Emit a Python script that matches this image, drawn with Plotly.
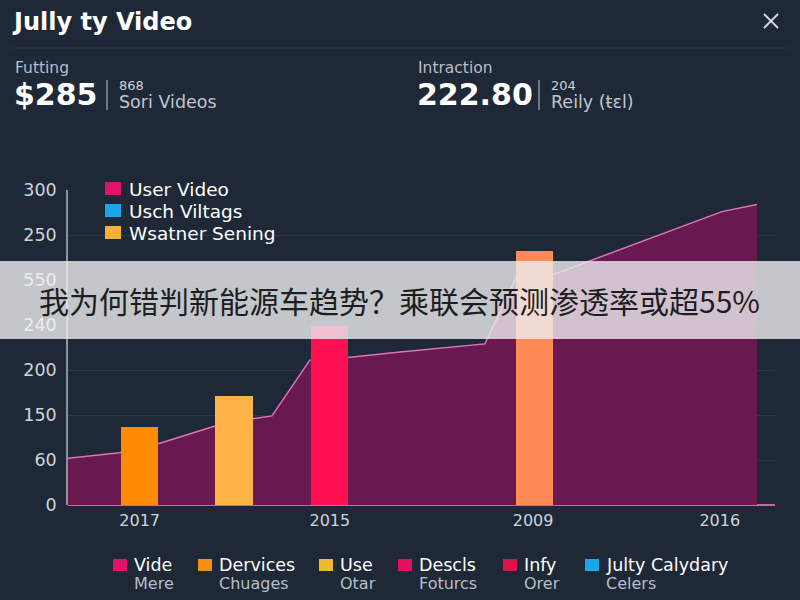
import plotly.graph_objects as go

# ---- data ----
area_x = [0, 7.5, 13.1, 21.0, 26.9, 29.6, 35.1, 40.6, 48.2, 60.5, 64.9, 70.4, 94.9, 100]
area_y = [52, 58, 68, 87, 96, 99, 161, 164, 170, 179, 250, 256, 326, 334]
bar_x = [10.4, 24.1, 37.9, 67.7]
bar_y = [87, 121, 199, 282]
bar_colors = ["#FF8C00", "#FFB347", "#FF1050", "#FF8A55"]
x_tickvals = [10.4, 38.0, 67.5, 94.6]
x_ticktext = ["2017", "2015", "2009", "2016"]
y_tickvals = [0, 50, 100, 150, 200, 250, 300, 350]
y_ticktext = ["0", "60", "150", "200", "<span style='color:#E6E8EC'>240</span>",
              "<span style='color:#E6E8EC'>550</span>", "250", "300"]
top_legend = [("User Video", "#E2126C"), ("Usch Viltags", "#1BA8E8"), ("Wsatner Sening", "#F7B035")]
bottom_legend = [("Vide", "Mere", "#E2126C"), ("Dervices", "Chuages", "#F39012"),
                 ("Use", "Otar", "#F0B830"), ("Descls", "Foturcs", "#E0105A"),
                 ("Infy", "Orer", "#E0104A"), ("Julty Calydary", "Celers", "#1BA8E8")]

W, H = 800, 600
L, R, T, B = 68, 25, 190, 95
PW, PH = W - L - R, H - T - B

def px(x):
    return (x - L) / PW

def py(y):
    return (H - y - B) / PH

BG = "#1E2836"
FONT = "DejaVu Sans, Verdana, sans-serif"

fig = go.Figure()
fig.add_trace(go.Scatter(x=area_x, y=area_y, mode="lines", fill="tozeroy",
                         fillcolor="#691850", line=dict(color="#D878B8", width=1.5),
                         hoverinfo="skip", showlegend=False))
fig.add_trace(go.Bar(x=bar_x, y=bar_y, width=5.4, marker=dict(color=bar_colors, line=dict(width=0)),
                     xaxis="x", yaxis="y2", showlegend=False))

shapes = []
annotations = []

def ann(x, y, text, size, color, anchor="left"):
    annotations.append(dict(xref="paper", yref="paper", x=px(x), y=py(y), text=text, showarrow=False,
                            xanchor=anchor, yanchor="middle", font=dict(size=size, color=color, family=FONT)))

def line(x0, y0, x1, y1, color, width):
    shapes.append(dict(type="line", xref="paper", yref="paper", x0=px(x0), x1=px(x1), y0=py(y0), y1=py(y1),
                       line=dict(color=color, width=width)))

def rect(x0, y0, x1, y1, color, layer="above"):
    shapes.append(dict(type="rect", xref="paper", yref="paper", x0=px(x0), x1=px(x1), y0=py(y1), y1=py(y0),
                       fillcolor=color, line=dict(width=0), layer=layer))

# header
ann(10, 22, "<b>Jully ty Video</b>", 24, "#FFFFFF")
line(764, 14, 778, 28, "#D8DCE2", 1.8)
line(764, 28, 778, 14, "#D8DCE2", 1.8)
line(12, 48, 788, 48, "#2C3646", 1)

def stat(x0, label, big, sep_x, small1, small2):
    ann(x0, 68, label, 15.5, "#B8BEC8")
    ann(x0 - 1, 95, "<b>" + big + "</b>", 30, "#FFFFFF")
    line(sep_x, 80, sep_x, 110, "#8A94A0", 1.5)
    ann(sep_x + 10, 85, small1, 13, "#D0D4DA")
    ann(sep_x + 10, 102, small2, 17.5, "#C0C6CE")

stat(13, "Futting", "$285", 107, "868", "Sori Videos")
stat(416, "Intraction", "222.80", 539, "204", "Reily (ŧɛl)")

# top legend
for i, (name, col) in enumerate(top_legend):
    yy = 189 + 22 * i
    rect(105, yy - 7, 121, yy + 6, col)
    ann(127, yy, name, 18.5, "#FFFFFF")

# bottom legend
bx = [113, 198, 319, 398, 503, 585]
for (name, sub, col), x0 in zip(bottom_legend, bx):
    rect(x0, 559, x0 + 14, 571, col)
    ann(x0 + 19, 565, name, 17.5, "#FFFFFF")
    ann(x0 + 19, 583, sub, 16, "#B8BEC8")

# overlay band with headline
rect(0, 261, 800, 339, "rgba(236,237,240,0.80)")
annotations.append(dict(xref="paper", yref="paper", x=px(399), y=py(300),
                        text="我为何错判新能源车趋势？乘联会预测渗透率或超55%", showarrow=False,
                        xanchor="center", yanchor="middle",
                        font=dict(size=30, color="#1E1E22", family="Noto Sans CJK SC")))

fig.update_layout(
    width=W, height=H, margin=dict(l=L, r=R, t=T, b=B),
    paper_bgcolor=BG, plot_bgcolor=BG, showlegend=False,
    bargap=0,
    xaxis=dict(range=[0, (800 - R - L) / 6.89], tickvals=x_tickvals, ticktext=x_ticktext,
               showgrid=False, zeroline=False, showline=False, ticks="", ticklabelstandoff=4,
               tickfont=dict(size=16, color="#D0D4DA", family=FONT)),
    yaxis=dict(range=[0, 350], tickvals=y_tickvals, ticktext=y_ticktext,
               showgrid=True, gridcolor="#2C3746", gridwidth=1, zeroline=True,
               zerolinecolor="#C868A8", zerolinewidth=1.5, showline=True, linecolor="#8A94A0",
               linewidth=1.5, ticks="", ticklabelstandoff=6,
               tickfont=dict(size=17.5, color="#D0D4DA", family=FONT)),
    yaxis2=dict(range=[0, 350], overlaying="y", visible=False),
    shapes=shapes, annotations=annotations,
)

fig.write_html("out.html", config={"displayModeBar": False},
               post_script="document.body.style.margin='0';document.body.style.background='#1E2836';")
